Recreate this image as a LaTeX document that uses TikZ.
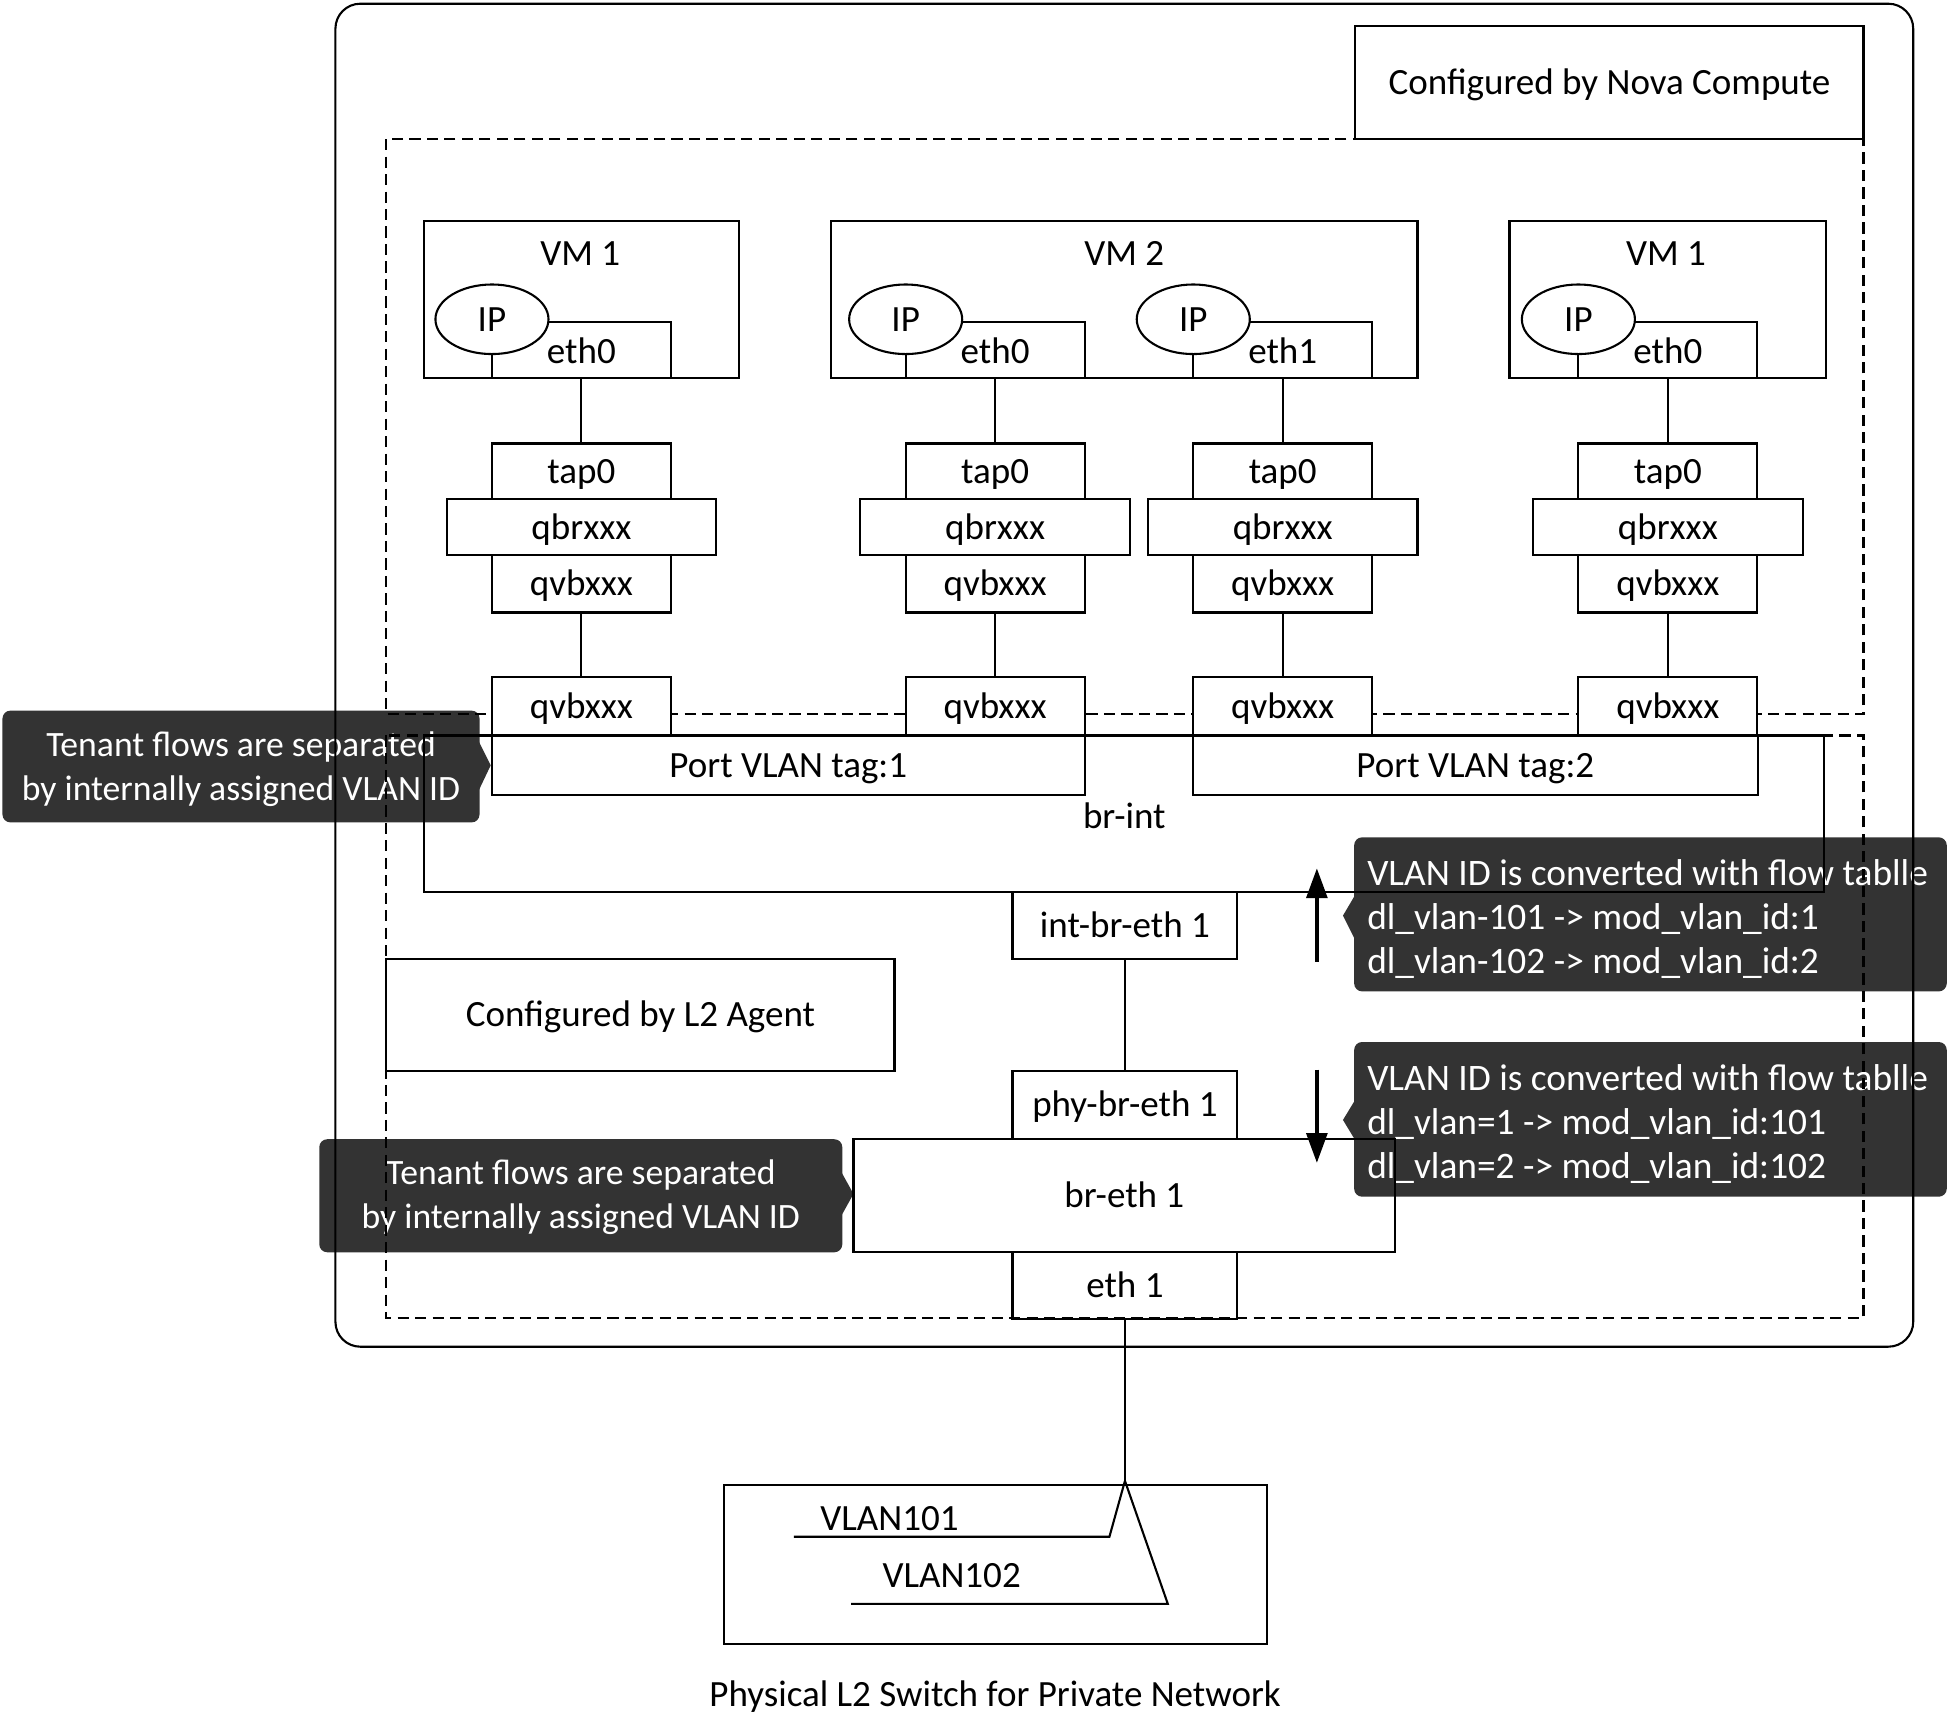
\documentclass[tikz,border=0pt]{standalone}
\usepackage{fontspec}
\setmainfont{Carlito}
\usetikzlibrary{shapes.geometric,arrows.meta}
\newdimen\px
\px=0.0125cm
\definecolor{tipfill}{HTML}{333333}
\tikzset{
  thinline/.style={line width=0.6pt},
  box/.style={draw, line width=0.6pt, inner sep=0pt, text height=7.8pt, text depth=1pt},
  solidbox/.style={box, fill=white},
  region/.style={draw, line width=0.6pt, dash pattern=on 3.2pt off 1.8pt},
  ipnode/.style={ellipse, draw, fill=white, line width=0.6pt, minimum width=91\px, minimum height=56\px, inner sep=0pt, text height=7.8pt, text depth=1pt},
  txt/.style={inner sep=0pt, text height=7.8pt, text depth=1pt},
  tipbox/.style={fill=tipfill, rounded corners=0.08cm, inner sep=0pt},
  tiptext/.style={text=white, inner sep=0pt, font=\fontsize{10.2}{12.6}\selectfont},
  flowtext/.style={tiptext, font=\fontsize{10.7}{12.6}\selectfont},
  flowarrow/.style={line width=1pt, -{Triangle[width=0.21cm,length=0.3cm]}},
}
% box given by its centre, width and height (in picture units)
\newcommand\cbox[7][box]{\node[#1, minimum width={#5*\px}, minimum height={#6*\px}] (#2) at (#3,#4) {#7};}

\begin{document}
\begin{tikzpicture}[x=\px, y=-\px, font=\fontsize{10.6}{12.6}\selectfont]
\useasboundingbox (0,0) rectangle (1568,1390);
\fill[white] (0,0) rectangle (1568,1390);

% ---- callouts (underneath everything else)
\cbox[tipbox]{tipA}{194}{617}{384}{90}{}
\fill[tipfill] (385,596) -- (395,616) -- (385,637) -- cycle;
\node[tiptext, align=center] (tipAt) at (194,619) {Tenant flows are separated\\by internally assigned VLAN ID};

\cbox[tipbox]{tipB}{467.5}{962.5}{421}{91}{}
\fill[tipfill] (677,943) -- (687,961) -- (677,979) -- cycle;
\node[tiptext, align=center] (tipBt) at (467.5,964) {Tenant flows are separated\\by internally assigned VLAN ID};

\cbox[tipbox]{tipC}{1328.5}{736}{477}{124}{}
\fill[tipfill] (1091,720) -- (1081,737) -- (1091,757) -- cycle;
\node[flowtext, align=left, anchor=west] (tipCt) at (1100,740)
  {VLAN ID is converted with flow tablle\\dl\_vlan-101 -> mod\_vlan\_id:1\\dl\_vlan-102 -> mod\_vlan\_id:2};

\cbox[tipbox]{tipD}{1328.5}{901}{477}{124.5}{}
\fill[tipfill] (1091,885) -- (1081,901.5) -- (1091,918) -- cycle;
\node[flowtext, align=left, anchor=west] (tipDt) at (1100,905)
  {VLAN ID is converted with flow tablle\\dl\_vlan=1 -> mod\_vlan\_id:101\\dl\_vlan=2 -> mod\_vlan\_id:102};

% ---- compute host and configuration regions
\cbox[box, rounded corners=0.25cm]{host}{905}{543.5}{1270}{1081}{}
\draw[region] (311,112) rectangle (1500,575);
\draw[region] (311,592) rectangle (1500,1061);
\cbox[solidbox]{nova}{1295.5}{66.5}{409}{91}{Configured by Nova Compute}
\cbox[solidbox]{agent}{515.5}{817}{409}{90}{Configured by L2 Agent}

% ---- virtual machines
\cbox{vmA}{468}{241}{254}{126}{}
\cbox{vmB}{905}{241}{472}{126}{}
\cbox{vmD}{1342.5}{241}{255}{126}{}
\node[txt] (vmAt) at (467,204) {VM 1};
\node[txt] (vmBt) at (905,204) {VM 2};
\node[txt] (vmDt) at (1341,204) {VM 1};

\cbox{ethA}{468}{281.5}{144}{45}{\raisebox{-0.6pt}{eth0}}
\cbox{ethB}{801}{281.5}{144}{45}{\raisebox{-0.6pt}{eth0}}
\cbox{ethC}{1032.5}{281.5}{144}{45}{\raisebox{-0.6pt}{eth1}}
\cbox{ethD}{1342.5}{281.5}{144}{45}{\raisebox{-0.6pt}{eth0}}
\node[ipnode] (ipA) at (396,257) {IP};
\node[ipnode] (ipB) at (729,257) {IP};
\node[ipnode] (ipC) at (960.5,257) {IP};
\node[ipnode] (ipD) at (1270.5,257) {IP};

% ---- per-port bridges and integration bridge ports
\foreach \n/\c in {A/468,B/801,C/1032.5,D/1342.5}{
  \cbox{tap\n}{\c}{379.5}{144}{45}{tap0}
  \cbox{qbr\n}{\c}{424.5}{217}{45}{qbrxxx}
  \cbox{qvb\n}{\c}{470}{144}{46}{qvbxxx}
  \cbox[solidbox]{qvbi\n}{\c}{568.5}{144}{47}{qvbxxx}
  \draw[thinline] (eth\n.south) -- (tap\n.north);
  \draw[thinline] (qvb\n.south) -- (qvbi\n.north);
}

% ---- br-int
\cbox{brint}{904.5}{655}{1127}{126}{}
\node[txt] (brintlbl) at (905,657) {br-int};
\cbox{tagA}{634.5}{616}{477}{48}{Port VLAN tag:1}
\cbox{tagB}{1187.5}{616}{455}{48}{Port VLAN tag:2}

% ---- patch ports and br-eth1
\cbox{intbr}{905.5}{745}{181}{54}{int-br-eth 1}
\cbox{phybr}{905.5}{889.5}{181}{55}{phy-br-eth 1}
\cbox{breth}{905}{962.5}{436}{91}{br-eth 1}
\cbox{ethone}{905.5}{1035}{181}{54}{eth 1}
\draw[thinline] (intbr.south) -- (phybr.north);

% ---- flow direction arrows
\coordinate (upS) at (1060,774);
\coordinate (upE) at (1060,699);
\coordinate (dnS) at (1060,861);
\coordinate (dnE) at (1060,936);
\draw[flowarrow] (upS) -- (upE);
\draw[flowarrow] (dnS) -- (dnE);

% ---- physical switch
\cbox{switch}{801.5}{1259}{437}{128}{}
\coordinate (apex) at (905.5,1192);
\coordinate (vaBend) at (893,1237);
\coordinate (vaEnd) at (639,1237);
\coordinate (vbBend) at (940,1291);
\coordinate (vbEnd) at (685,1291);
\draw[thinline] (ethone.south) -- (apex);
\draw[thinline] (apex) -- (vaBend) -- (vaEnd);
\draw[thinline] (apex) -- (vbBend) -- (vbEnd);
\node[txt] (vlanA) at (716,1222) {VLAN101};
\node[txt] (vlanB) at (766,1268) {VLAN102};
\node[txt] (swlbl) at (801,1364) {Physical L2 Switch for Private Network};
\end{tikzpicture}
\end{document}
